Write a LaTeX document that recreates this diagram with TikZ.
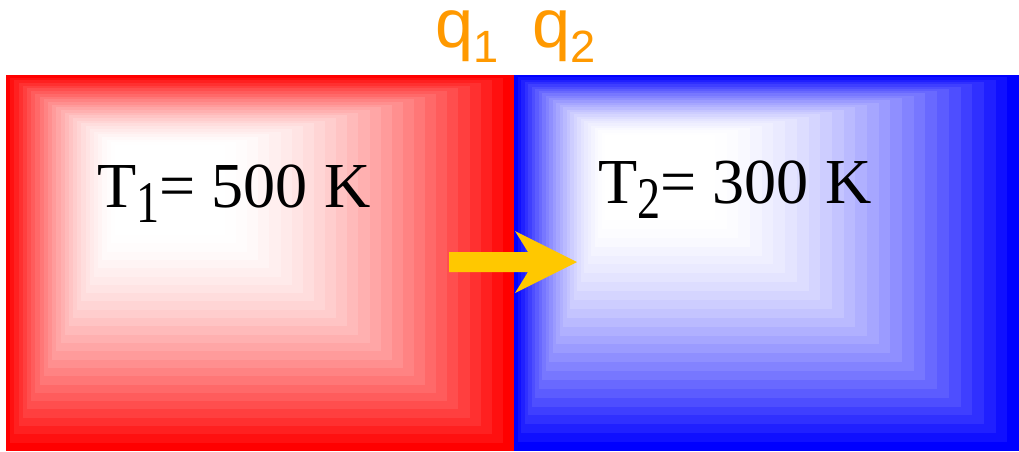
\documentclass[tikz,border=0pt]{standalone}
\usepackage{fontspec}
\setmainfont{Liberation Serif}
\setsansfont{Liberation Sans}
\usetikzlibrary{positioning}
\definecolor{qorange}{RGB}{255,153,0}
\definecolor{flowyellow}{RGB}{255,200,0}
\newcommand{\lowidx}[1]{\raisebox{-0.24em}{\scalebox{0.72}[0.92]{#1}}}
\newcommand{\heatidx}[1]{\raisebox{-0.22em}{\scalebox{0.66}{#1}}}
\tikzset{
  templabel/.style={font=\fontsize{36.5}{40}\selectfont, inner sep=0pt, anchor=base west},
  heatlabel/.style={font=\sffamily\fontsize{39}{42}\selectfont, text=qorange,
                    inner sep=0pt, anchor=base west},
  flowarrow/.style={fill=flowyellow, draw=none}
}
% stepped box gradient: colour, outer x1,y1,x2,y2, inner x1,y1,x2,y2
\newcommand{\boxgrad}[9]{%
  \foreach \k in {0,...,26}{
    \pgfmathsetmacro{\f}{\k/26}
    \pgfmathsetmacro{\pc}{100*(1-\f)^1.7}
    \fill[#1!\pc!white] ({#2+(#6-#2)*\f},{#3+(#7-#3)*\f})
      rectangle ({#4+(#8-#4)*\f},{#5+(#9-#5)*\f});
  }%
}

\begin{document}
\begin{tikzpicture}[x=0.02cm, y=-0.02cm]
  \useasboundingbox (0,0) rectangle (1019,451);
  % the two bodies
  \boxgrad{red}{6}{75}{514}{451}{115}{145}{225}{235}
  \boxgrad{blue}{514}{75}{1019}{451}{605}{135}{715}{220}
  \node[templabel] (hotT) at (97,207) {T\lowidx{1}= 500 K};
  \node[templabel] (coldT) at (598,203) {T\lowidx{2}= 300 K};
  \node[heatlabel] (qone) at (435,47) {q\heatidx{1}};
  \node[heatlabel] (qtwo) at (532,47) {q\heatidx{2}};
  % heat flow
  \fill[flowarrow] (449,252) -- (528,252) -- (515,231) -- (577,262)
    -- (515,293) -- (528,272) -- (449,272) -- cycle;
\end{tikzpicture}
\end{document}
